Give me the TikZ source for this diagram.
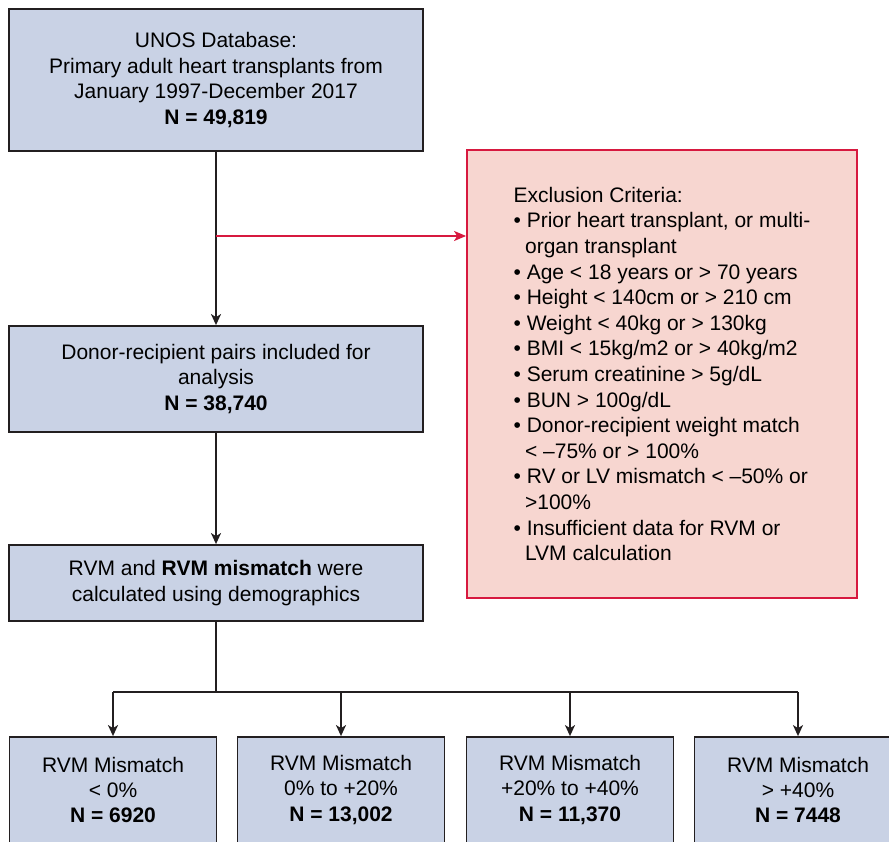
\documentclass[tikz,border=0pt]{standalone}
\usepackage{fontspec}
\setmainfont{Liberation Sans}
\usetikzlibrary{arrows.meta}
\definecolor{boxblue}{HTML}{C9D2E5}
\definecolor{boxedge}{HTML}{231F20}
\definecolor{exfill}{HTML}{F7D6D0}
\definecolor{exred}{HTML}{D7193F}
\tikzset{
  txt/.style={font=\fontsize{21}{25.4}\selectfont},
  bluebox/.style={draw=boxedge, fill=boxblue, line width=1.8pt, inner sep=0pt, align=center, txt},
  redbox/.style={draw=exred, fill=exfill, line width=1.8pt, inner sep=0pt, align=left, font=\fontsize{21}{25.6}\selectfont},
  link/.style={draw=boxedge, line width=1.6pt},
  arr/.style={link, -{Stealth[length=11pt,width=10pt,inset=3pt]}},
  redarr/.style={draw=exred, line width=1.5pt, -{Stealth[length=12pt,width=10pt,inset=3pt]}},
}
\begin{document}
\begin{tikzpicture}[x=1pt,y=-1pt]
\useasboundingbox (0,0) rectangle (889,842);
\clip (0,0) rectangle (889,842);
\fill[white] (0,0) rectangle (889,842);

\node[bluebox, minimum width=414pt, minimum height=142pt] (unos) at (216,80)
  {UNOS Database:\\Primary adult heart transplants from\\January 1997-December 2017\\\textbf{N = 49,819}};
\node[bluebox, minimum width=414pt, minimum height=106pt] (incl) at (216,379)
  {Donor-recipient pairs included for\\analysis\\\textbf{N = 38,740}};
\node[bluebox, minimum width=414pt, minimum height=76pt] (calc) at (216,583)
  {RVM and \textbf{RVM mismatch} were\\calculated using demographics};

\node[redbox, minimum width=390pt, minimum height=448pt] (excl) at (662,374)
  {Exclusion Criteria:\\
   \textbullet\ Prior heart transplant, or multi-\\
   \hspace*{11.5pt}organ transplant\\
   \textbullet\ Age < 18 years or > 70 years\\
   \textbullet\ Height < 140cm or > 210 cm\\
   \textbullet\ Weight < 40kg or > 130kg\\
   \textbullet\ BMI < 15kg/m2 or > 40kg/m2\\
   \textbullet\ Serum creatinine > 5g/dL\\
   \textbullet\ BUN > 100g/dL\\
   \textbullet\ Donor-recipient weight match\\
   \hspace*{11.5pt}< –75\% or > 100\%\\
   \textbullet\ RV or LV mismatch < –50\% or\\
   \hspace*{11.5pt}>100\%\\
   \textbullet\ Insufficient data for RVM or\\
   \hspace*{11.5pt}LVM calculation};

\node[bluebox, minimum width=207pt, minimum height=106pt] (m1) at (113,790)
  {RVM Mismatch\\< 0\%\\\textbf{N = 6920}};
\node[bluebox, minimum width=207pt, minimum height=106pt] (m2) at (341,790)
  {RVM Mismatch\\0\% to +20\%\\\textbf{N = 13,002}};
\node[bluebox, minimum width=207pt, minimum height=106pt] (m3) at (570,790)
  {RVM Mismatch\\+20\% to +40\%\\\textbf{N = 11,370}};
\node[bluebox, minimum width=207pt, minimum height=106pt] (m4) at (798,790)
  {RVM Mismatch\\> +40\%\\\textbf{N = 7448}};

\draw[arr] (unos.south) -- (incl.north);
\coordinate (split) at (216,236);
\draw[redarr] (split) -- (split -| excl.west);
\draw[arr] (incl.south) -- (calc.north);
\coordinate (hub) at (216,692);
\draw[link] (calc.south) -- (hub);
\draw[link, line join=miter] (m1.north |- hub) -- (m4.north |- hub);
\foreach \m in {m1,m2,m3,m4}
  \draw[arr] (\m.north |- hub) -- (\m.north);
\end{tikzpicture}
\end{document}
